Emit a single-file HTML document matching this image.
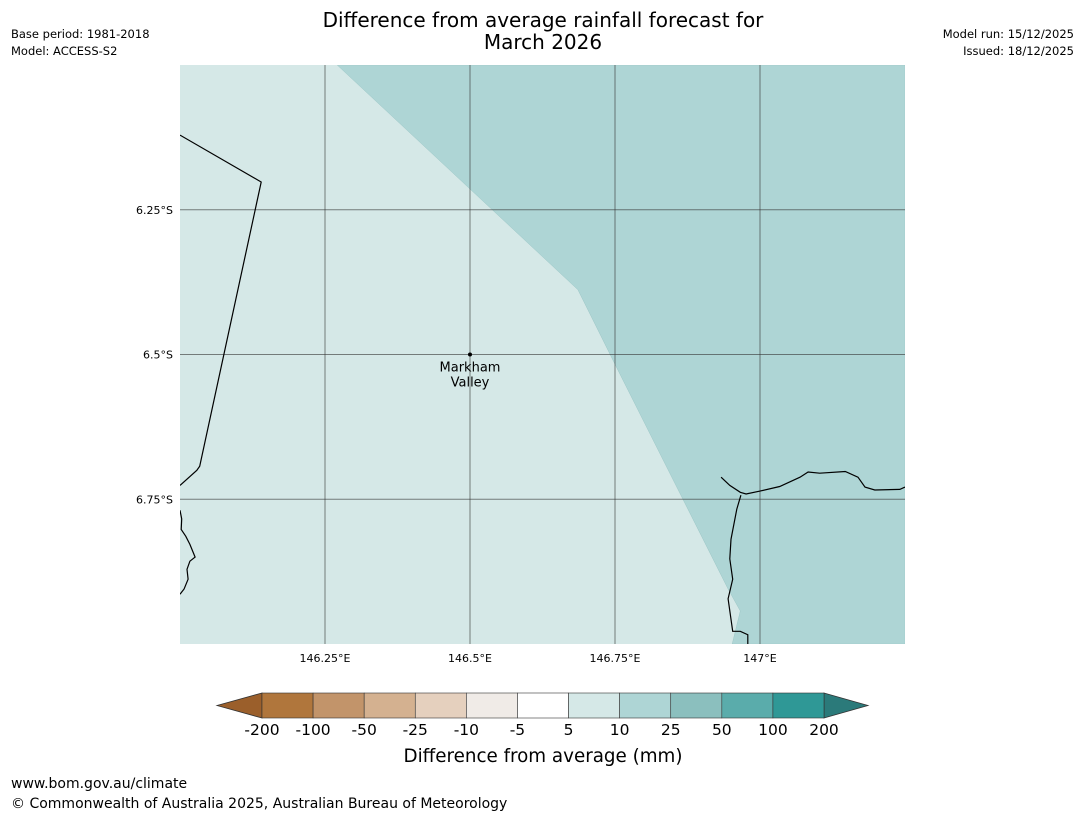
<!DOCTYPE html>
<html><head><meta charset="utf-8">
<style>
body{margin:0;background:#fff;width:1085px;height:816px;overflow:hidden;font-family:"DejaVu Sans","Liberation Sans",sans-serif;}
svg{position:absolute;left:0;top:0}
</style></head>
<body>
<svg id="s" width="1085" height="816" xmlns="http://www.w3.org/2000/svg">
<text x="543" y="27" font-size="20" text-anchor="middle">Difference from average rainfall forecast for</text>
<text x="543" y="49" font-size="20" text-anchor="middle">March 2026</text>
<text x="11" y="38" font-size="11.5">Base period: 1981-2018</text>
<text x="11" y="55" font-size="11.5">Model: ACCESS-S2</text>
<text x="1074" y="38" font-size="11.5" text-anchor="end">Model run: 15/12/2025</text>
<text x="1074" y="55" font-size="11.5" text-anchor="end">Issued: 18/12/2025</text>
<g id="map"></g>
<g id="cbar"></g>
<text x="543" y="762" font-size="18.3" text-anchor="middle">Difference from average (mm)</text>
<text x="11" y="788" font-size="14">www.bom.gov.au/climate</text>
<text x="11" y="808" font-size="14">© Commonwealth of Australia 2025, Australian Bureau of Meteorology</text>
</svg>
<script>
const NS="http://www.w3.org/2000/svg";
const levels=["-200","-100","-50","-25","-10","-5","5","10","25","50","100","200"];
const colors=["#9b5f2b","#b0763c","#c2946a","#d4b190","#e5d0be","#f0ebe7","#ffffff","#d5e8e7","#aed5d5","#8bbfbe","#5aacab","#2f9896","#2b7a7a"];
const lonTicks=[146.25,146.5,146.75,147.0];
const lonLabels=["146.25°E","146.5°E","146.75°E","147°E"];
const latTicks=[-6.25,-6.5,-6.75];
const latLabels=["6.25°S","6.5°S","6.75°S"];
const lightShade="#d5e8e7", darkShade="#aed5d5";
const darkRegion=[[146.271,-6.0],[147.25,-6.0],[147.25,-7.0],[146.952,-7.0],[146.966,-6.943],[146.945,-6.905],[146.75,-6.517],[146.686,-6.388]];
const westBorder=[[146.0,-6.121],[146.140,-6.202],[146.034,-6.693],[146.029,-6.7],[146.0,-6.726]];
const westCoast=[[146.0,-6.769],[146.003,-6.784],[146.002,-6.802],[146.010,-6.814],[146.017,-6.828],[146.026,-6.850],[146.017,-6.857],[146.012,-6.871],[146.014,-6.888],[146.007,-6.905],[146.0,-6.914]];
const eastCoast=[[146.933,-6.712],[146.948,-6.726],[146.966,-6.738],[146.976,-6.741],[147.0,-6.736],[147.034,-6.728],[147.069,-6.712],[147.083,-6.703],[147.103,-6.705],[147.147,-6.702],[147.169,-6.712],[147.181,-6.729],[147.198,-6.734],[147.241,-6.733],[147.25,-6.729]];
const eastCoastRiver=[[146.967,-6.743],[146.960,-6.767],[146.95,-6.819],[146.948,-6.853],[146.953,-6.888],[146.945,-6.922],[146.953,-6.978],[146.966,-6.978],[146.979,-6.984],[146.979,-7.0]];
const town={name:["Markham","Valley"],lon:146.5,lat:-6.5};
const X0=180,X1=905,Y0=65,Y1=644,lonMin=146.0,lonMax=147.25,latMax=-6.0,latMin=-7.0;
const xs=l=>X0+(l-lonMin)/(lonMax-lonMin)*(X1-X0);
const ys=l=>Y0+(latMax-l)/(latMax-latMin)*(Y1-Y0);
function mk(t,a,p){const e=document.createElementNS(NS,t);for(const k in a)e.setAttribute(k,a[k]);p.appendChild(e);return e;}
const map=document.getElementById('map');
const clip=mk('clipPath',{id:'mc'},map);mk('rect',{x:X0,y:Y0,width:X1-X0,height:Y1-Y0},clip);
const g=mk('g',{'clip-path':'url(#mc)'},map);
const bg=mk('rect',{x:X0,y:Y0,width:X1-X0,height:Y1-Y0,fill:lightShade},g);


const pts=a=>a.map(p=>xs(p[0]).toFixed(1)+','+ys(p[1]).toFixed(1)).join(' ');
const dr=mk('polygon',{points:pts(darkRegion),fill:darkShade,stroke:'#9cc6c6','stroke-width':0.5},g);


lonTicks.forEach((l,i)=>{const x=xs(l);
 const ln=mk('line',{x1:x,x2:x,y1:Y0,y2:Y1,stroke:'#333','stroke-width':1,opacity:0.6},g);
 
 
 const t=mk('text',{x:x,y:662,'font-size':11,'text-anchor':'middle'},map);t.textContent=lonLabels[i];
 
 });
latTicks.forEach((l,i)=>{const y=ys(l);
 const ln=mk('line',{x1:X0,x2:X1,y1:y,y2:y,stroke:'#333','stroke-width':1,opacity:0.6},g);
 
 
 const t=mk('text',{x:173,y:y+4,'font-size':11,'text-anchor':'end'},map);t.textContent=latLabels[i];
 
 });
[westBorder,westCoast,eastCoast,eastCoastRiver].forEach(a=>{
 const c=mk('polyline',{points:pts(a),fill:'none',stroke:'#000','stroke-width':1.2},g);
 
 });
const dot=mk('circle',{cx:xs(town.lon),cy:ys(town.lat),r:2,fill:'#000'},map);


town.name.forEach((n,i)=>{const t=mk('text',{x:xs(town.lon),y:ys(town.lat)+17+i*15,'font-size':13,'text-anchor':'middle'},map);t.textContent=n;
 
 });
const cb=document.getElementById('cbar');
const CX0=262,CX1=824,CY0=693,CY1=718,nb=levels.length-1,bw=(CX1-CX0)/nb;
const lt=mk('polygon',{points:`${CX0},${CY0} ${CX0},${CY1} 217,705.5`,fill:colors[0],stroke:'#333','stroke-width':0.8},cb);


const rt=mk('polygon',{points:`${CX1},${CY0} ${CX1},${CY1} 868,705.5`,fill:colors[colors.length-1],stroke:'#333','stroke-width':0.8},cb);


for(let i=0;i<nb;i++){const r=mk('rect',{x:CX0+i*bw,y:CY0,width:bw,height:CY1-CY0,fill:colors[i+1],stroke:'#333','stroke-width':0.6},cb);
 
 }
levels.forEach((v,i)=>{const t=mk('text',{x:CX0+i*bw,y:735,'font-size':15.5,'text-anchor':'middle'},cb);t.textContent=v;
 
 });
</script>
</body></html>
